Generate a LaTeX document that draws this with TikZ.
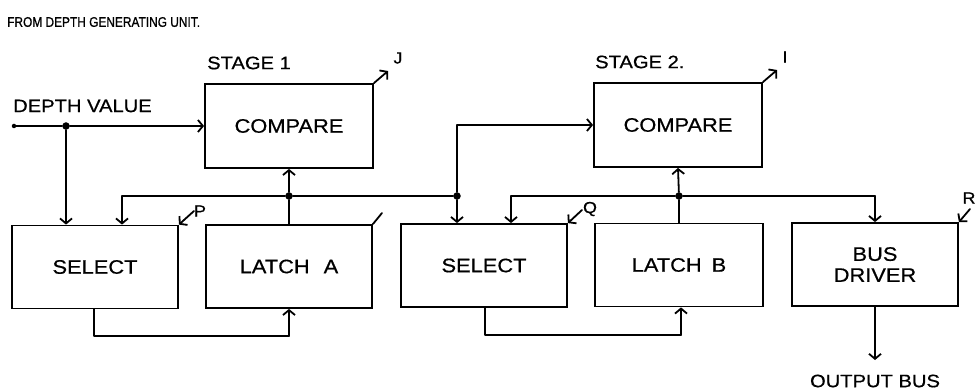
\documentclass[tikz,border=0pt]{standalone}
\usepackage{fontspec}
\setmainfont{Liberation Sans}
\newfontfamily\hand[FakeStretch=1.12,FakeBold=0.6]{Liberation Sans}
\newfontfamily\handnarrow[FakeStretch=0.85,FakeBold=0.8]{Liberation Sans}
\usetikzlibrary{arrows.meta}
\tikzset{
  wire/.style={line width=1.8pt, line cap=round, line join=round},
  arr/.style={wire, -{Straight Barb[length=5pt,width=12pt,line width=1.8pt]}},
  blk/.style={draw, line width=1.8pt, rectangle, minimum width=166pt, minimum height=83pt,
              font=\hand\fontsize{19.5}{21}\selectfont, align=center, inner sep=0pt},
  lbl/.style={font=\hand\fontsize{18}{20}\selectfont, inner sep=0pt},
  tag/.style={font=\hand\fontsize{16}{18}\selectfont, inner sep=0pt},
  dot/.style={circle, fill, inner sep=0pt, minimum size=7.5pt},
  sdot/.style={circle, fill, inner sep=0pt, minimum size=4.5pt}
}
\begin{document}
\begin{tikzpicture}[x=1pt,y=-1pt]
\useasboundingbox (0,0) rectangle (976,390);

% title and headings
\node[lbl, font=\handnarrow\fontsize{14}{16}\selectfont, anchor=west] (title) at (7,22) {FROM DEPTH GENERATING UNIT.};
\node[lbl, anchor=west] (dv) at (13,106) {DEPTH VALUE};
\node[lbl, anchor=west] (st1) at (207,63) {STAGE 1};
\node[lbl, anchor=west] (st2) at (595,62) {STAGE 2.};

% blocks
\node[blk, minimum width=168pt, minimum height=84pt] (cmp1) at (289,126) {COMPARE};
\node[blk, minimum width=168pt, minimum height=84pt] (cmp2) at (678,125) {COMPARE};
\node[blk] (sel1) at (95,267) {SELECT};
\node[blk] (latA) at (289,266.5) {LATCH\hspace{14pt}A};
\node[blk] (sel2) at (484,265.5) {SELECT};
\node[blk, minimum width=168pt] (latB) at (679,265) {LATCH\hspace{10pt}B};
\node[blk] (bus) at (875,264.5) {BUS\\[0pt]DRIVER};

% junctions and wire corners
\node[sdot] (in) at (14,126) {};
\node[dot] (j0) at (66,126) {};
\node[dot] (j1) at (289,196) {};
\node[dot] (j2) at (457,196) {};
\node[dot] (j3) at (679,196) {};
\coordinate (b1) at (122,196);
\coordinate (b2) at (511,196);
\coordinate (b3) at (875,196);
\coordinate (up2) at (457,125);
\coordinate (f1a) at (94,336);
\coordinate (f1b) at (289,336);
\coordinate (f2a) at (485,335);
\coordinate (f2b) at (681,335);
\coordinate (outb) at (875,360);

% stage 1 wiring
\draw[arr] (in) -- (j0) -- (cmp1.west);
\draw[arr] (j0) -- (j0 |- sel1.north);
\draw[wire] (b1) -- (j1) -- (j2);
\draw[arr] (b1) -- (b1 |- sel1.north);
\draw[arr] (j1) -- (cmp1.south);
\draw[wire] (j1) -- (latA.north);
\draw[wire] (sel1.south -| f1a) -- (f1a) -- (f1b);
\draw[arr] (f1b) -- (latA.south);

% stage 2 wiring
\draw[arr] (j2) -- (up2) -- (cmp2.west);
\draw[arr] (j2) -- (j2 |- sel2.north);
\draw[wire] (b2) -- (j3) -- (b3);
\draw[arr] (b2) -- (b2 |- sel2.north);
\draw[arr] (b3) -- (bus.north);
\draw[arr] (j3) -- (cmp2.south);
\draw[wire] (j3) -- (latB.north);
\draw[wire] (sel2.south -| f2a) -- (f2a) -- (f2b);
\draw[arr] (f2b) -- (f2b |- latB.south);

% output
\draw[arr] (bus.south) -- (outb);
\node[lbl, anchor=center] (ob) at (875,381) {OUTPUT BUS};

% corner tags
\coordinate (tJ) at (388,71);
\coordinate (tI) at (777,70);
\coordinate (tP) at (194,211);
\coordinate (tQ) at (582,210);
\coordinate (tR) at (970,209);
\coordinate (tA) at (382,213);
\draw[arr] (cmp1.north east) -- (tJ);
\draw[arr] (cmp2.north east) -- (tI);
\draw[arr] (tP) -- (sel1.north east);
\draw[arr] (tQ) -- (sel2.north east);
\draw[arr] (tR) -- (bus.north east);
\draw[wire] (latA.north east) -- (tA);
\node[tag] (J) at (398,58) {J};
\node[tag] (I) at (785,57) {I};
\node[tag] (P) at (200,211) {P};
\node[tag] (Q) at (590,209) {Q};
\node[tag] (R) at (969,198) {R};
\end{tikzpicture}
\end{document}
